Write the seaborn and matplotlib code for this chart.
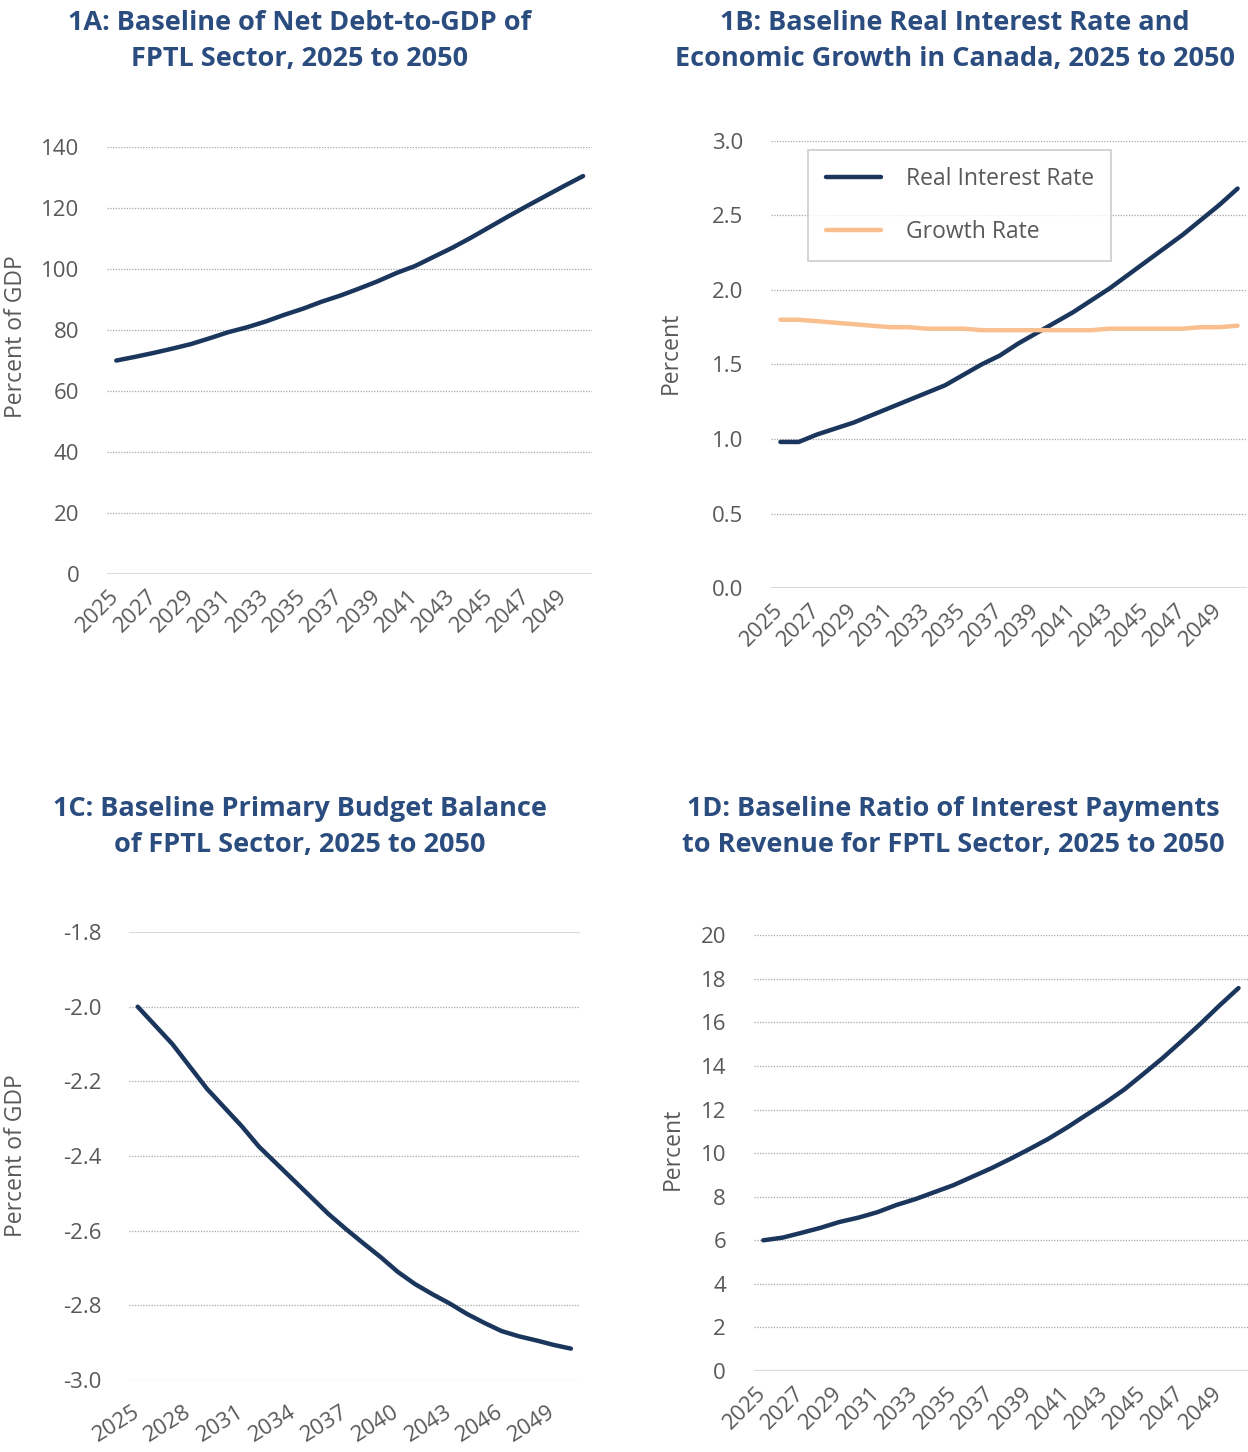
import matplotlib
matplotlib.use("Agg")
import matplotlib.pyplot as plt
import seaborn as sns
import pandas as pd

years = list(range(2025, 2051))

net_debt = [70.0, 71.2, 72.5, 73.9, 75.4, 77.3, 79.3, 80.9, 82.8, 85.0,
            87.0, 89.3, 91.3, 93.6, 96.0, 98.7, 101.0, 104.0, 107.0, 110.3,
            113.8, 117.3, 120.7, 124.0, 127.3, 130.5]

real_interest = [0.98, 0.98, 1.03, 1.07, 1.11, 1.16, 1.21, 1.26, 1.31, 1.36,
                 1.43, 1.50, 1.56, 1.64, 1.71, 1.78, 1.85, 1.93, 2.01, 2.10,
                 2.19, 2.28, 2.37, 2.47, 2.57, 2.68]
growth_rate = [1.80, 1.80, 1.79, 1.78, 1.77, 1.76, 1.75, 1.75, 1.74, 1.74,
               1.74, 1.73, 1.73, 1.73, 1.73, 1.73, 1.73, 1.73, 1.74, 1.74,
               1.74, 1.74, 1.74, 1.75, 1.75, 1.76]

primary_balance = [-2.00, -2.05, -2.10, -2.16, -2.22, -2.27, -2.32, -2.375, -2.42, -2.465,
                   -2.51, -2.555, -2.595, -2.633, -2.67, -2.71, -2.743, -2.77, -2.795, -2.823,
                   -2.847, -2.869, -2.883, -2.894, -2.906, -2.916]

interest_to_revenue = [6.0, 6.12, 6.34, 6.57, 6.84, 7.04, 7.29, 7.62, 7.89, 8.21,
                       8.53, 8.92, 9.31, 9.74, 10.19, 10.66, 11.19, 11.76, 12.32, 12.93,
                       13.64, 14.36, 15.14, 15.94, 16.78, 17.58]

titles = ["1A: Baseline of Net Debt-to-GDP of\nFPTL Sector, 2025 to 2050",
          "1B: Baseline Real Interest Rate and\nEconomic Growth in Canada, 2025 to 2050",
          "1C: Baseline Primary Budget Balance\nof FPTL Sector, 2025 to 2050",
          "1D: Baseline Ratio of Interest Payments\nto Revenue for FPTL Sector, 2025 to 2050"]

navy = "#1b365d"
orange = "#f9bf8f"
title_col = "#2b4c7e"
text_col = "#595959"
grid_col = "#a6a6a6"
axis_col = "#d9d9d9"

sns.set_style("white")
plt.rcParams['font.family'] = ['Open Sans', 'DejaVu Sans']
plt.rcParams['axes.unicode_minus'] = False

df = pd.DataFrame({"Year": years, "Net Debt": net_debt,
                   "Real Interest Rate": real_interest, "Growth Rate": growth_rate,
                   "Primary Balance": primary_balance, "Interest/Revenue": interest_to_revenue})

fig = plt.figure(figsize=(12.48, 14.52), dpi=100)
axA = fig.add_axes([0.0857, 0.6047, 0.389, 0.294])
axB = fig.add_axes([0.618, 0.595, 0.381, 0.308])
axC = fig.add_axes([0.1034, 0.0496, 0.361, 0.3085])
axD = fig.add_axes([0.604, 0.0558, 0.396, 0.300])


def style(ax, ylim, yticks, fmt, xticks, ylabel, label_xy, rot=45, xpad=14, axis_at_top=False):
    ax.set_xlim(2024.5, 2050.5)
    ax.set_ylim(*ylim)
    for s in ax.spines.values():
        s.set_visible(False)
    ax.set_yticks(yticks)
    ax.set_yticklabels([fmt.format(v) for v in yticks])
    ax.set_xticks(xticks)
    ax.set_xticklabels([str(x) for x in xticks], rotation=rot, ha='right',
                       va='center', rotation_mode='anchor')
    ax.tick_params(axis='y', length=0, pad=20, labelsize=16, labelcolor=text_col)
    ax.tick_params(axis='x', length=0, pad=xpad, labelsize=16, labelcolor=text_col)
    for v in yticks:
        solid = (v == ylim[1]) if axis_at_top else (v == ylim[0])
        if solid:
            ax.axhline(v, color=axis_col, lw=1.5, zorder=1)
        else:
            ax.axhline(v, color=grid_col, lw=0.9, ls=(0, (1, 1.2)), zorder=1)
    ax.set_xlabel("")
    ax.set_ylabel(ylabel, fontsize=16.5, color=text_col)
    ax.yaxis.set_label_coords(*label_xy)


sns.lineplot(data=df, x="Year", y="Net Debt", ax=axA, color=navy, lw=3.2)
style(axA, (0, 140), list(range(0, 141, 20)), "{:.0f}", list(range(2025, 2050, 2)),
      "Percent of GDP", (-0.163, 0.557))

sns.lineplot(data=df, x="Year", y="Real Interest Rate", ax=axB, color=navy, lw=3.2, label="Real Interest Rate")
sns.lineplot(data=df, x="Year", y="Growth Rate", ax=axB, color=orange, lw=3.2, label="Growth Rate")
style(axB, (0, 3.0), [0, 0.5, 1.0, 1.5, 2.0, 2.5, 3.0], "{:.1f}", list(range(2025, 2050, 2)),
      "Percent", (-0.187, 0.526))
leg = axB.legend(loc='upper left', bbox_to_anchor=(0.078, 0.98), borderaxespad=0,
                 fontsize=16.5, frameon=True, fancybox=False, edgecolor="#bfbfbf",
                 handlelength=2.4, labelspacing=1.25, borderpad=0.75, handletextpad=1.1)
for t in leg.get_texts():
    t.set_color(text_col)
leg.get_frame().set_linewidth(1.2)

sns.lineplot(data=df, x="Year", y="Primary Balance", ax=axC, color=navy, lw=3.2)
style(axC, (-3.0, -1.8), [-3.0, -2.8, -2.6, -2.4, -2.2, -2.0, -1.8], "{:.1f}",
      list(range(2025, 2050, 3)), "Percent of GDP", (-0.224, 0.5), rot=32, xpad=22,
      axis_at_top=True)

sns.lineplot(data=df, x="Year", y="Interest/Revenue", ax=axD, color=navy, lw=3.2)
style(axD, (0, 20), list(range(0, 21, 2)), "{:.0f}", list(range(2025, 2050, 2)),
      "Percent", (-0.14, 0.511))

title_pos = [(300, 41), (955, 41), (300, 827), (953, 827)]
for (px, py), t in zip(title_pos, titles):
    fig.text(px / 1248, 1 - py / 1452, t, ha='center', va='center', fontsize=19.5,
             fontweight='bold', color=title_col, linespacing=1.5)

fig.savefig("out.png", dpi=100)
